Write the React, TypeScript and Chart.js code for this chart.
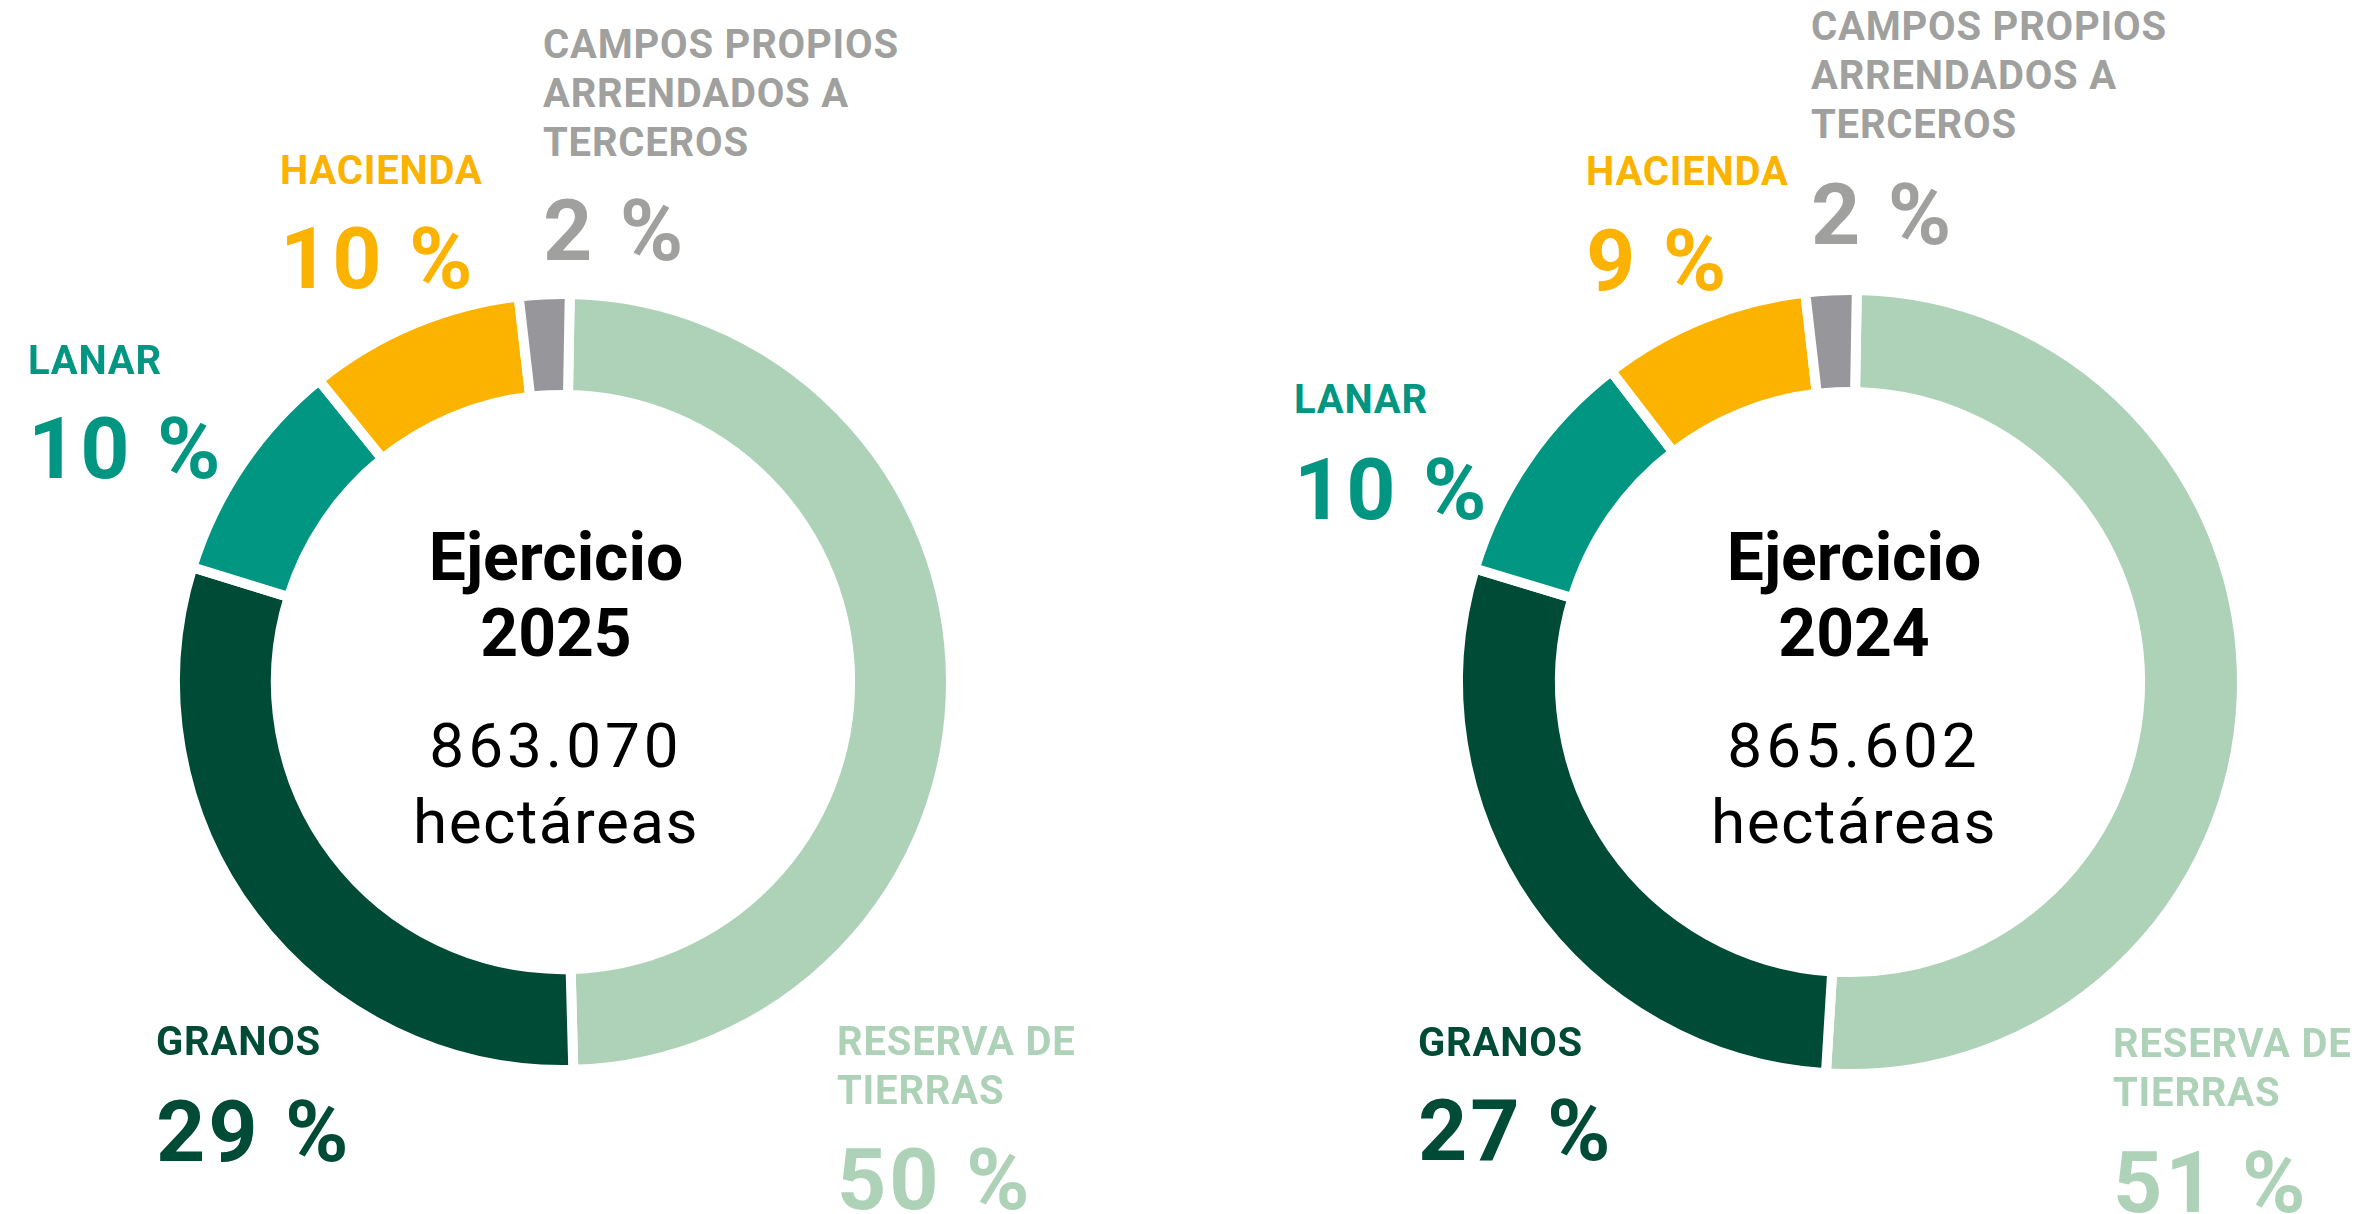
import React, { useEffect, useRef } from 'react';
import { Chart, DoughnutController, ArcElement } from 'chart.js';

Chart.register(DoughnutController, ArcElement);

// ---- data ----
const categories = ['Reserva de tierras', 'Granos', 'Lanar', 'Hacienda', 'Campos propios arrendados a terceros'];
const categoryLabels = [
  ['RESERVA DE', 'TIERRAS'],
  ['GRANOS'],
  ['LANAR'],
  ['HACIENDA'],
  ['CAMPOS PROPIOS', 'ARRENDADOS A', 'TERCEROS'],
];
const colors = ['#AED2B8', '#004B35', '#009682', '#FCB300', '#97969B'];
const textColors = ['#AED2B8', '#004B35', '#009682', '#FCB300', '#A0A09F'];

// shares (%) as drawn in the rings
const shares2025 = [49.3, 30.2, 9.4, 9.0, 2.1];
const shares2024 = [50.7, 28.7, 9.9, 8.6, 2.1];
// printed percentage labels
const pctLabels2025 = ['50 %', '29 %', '10 %', '10 %', '2 %'];
const pctLabels2024 = ['51 %', '27 %', '10 %', '9 %', '2 %'];

const years = ['2025', '2024'];
const hectares = ['863.070', '865.602'];
const titleWord = 'Ejercicio';
const unitWord = 'hectáreas';

// ---- layout (positions only) ----
type LabelPos = { x: number; name: number; pct: number };
const charts = [
  {
    cx: 563, cy: 682, radius: 388, cutout: '74%', textX: 556,
    shares: shares2025, pcts: pctLabels2025, year: years[0], ha: hectares[0],
    pos: [
      { x: 837, name: 1056, pct: 1209 },
      { x: 156, name: 1056, pct: 1161 },
      { x: 28, name: 375, pct: 478 },
      { x: 280, name: 185, pct: 288 },
      { x: 543, name: 59, pct: 260 },
    ] as LabelPos[],
  },
  {
    cx: 1850, cy: 682, radius: 392, cutout: '74%', textX: 1854,
    shares: shares2024, pcts: pctLabels2024, year: years[1], ha: hectares[1],
    pos: [
      { x: 2113, name: 1058, pct: 1212 },
      { x: 1418, name: 1057, pct: 1160 },
      { x: 1294, name: 414, pct: 519 },
      { x: 1586, name: 186, pct: 290 },
      { x: 1811, name: 41, pct: 244 },
    ] as LabelPos[],
  },
];

const FONT = 'Roboto, "Liberation Sans", sans-serif';

function Txt(props: {
  x: number; baseline: number; size: number; weight: number; color: string; text: string; center?: boolean; ls?: number;
}) {
  const { x, baseline, size, weight, color, text, center, ls } = props;
  const top = baseline - 0.842 * size;
  const style: React.CSSProperties = {
    position: 'absolute',
    top,
    left: center ? x - 500 : x,
    width: center ? 1000 : undefined,
    textAlign: center ? 'center' : 'left',
    fontFamily: FONT,
    fontSize: size,
    fontWeight: weight,
    lineHeight: `${size}px`,
    color,
    whiteSpace: 'nowrap',
    letterSpacing: ls ? `${ls}px` : undefined,
  };
  return <div style={style}>{text}</div>;
}

function Ring(props: { cx: number; cy: number; radius: number; cutout: string; shares: number[] }) {
  const ref = useRef<HTMLCanvasElement | null>(null);
  const { cx, cy, radius, cutout, shares } = props;
  useEffect(() => {
    if (!ref.current) return;
    const chart = new Chart(ref.current, {
      type: 'doughnut',
      data: {
        labels: categories,
        datasets: [
          {
            data: shares,
            backgroundColor: colors,
            borderColor: '#ffffff',
            borderWidth: 10,
            borderJoinStyle: 'miter',
            hoverOffset: 0,
          } as any,
        ],
      },
      options: {
        responsive: false,
        animation: false,
        devicePixelRatio: 1,
        events: [],
        radius,
        cutout,
        rotation: 1,
        layout: { padding: 0 },
        plugins: { legend: { display: false }, tooltip: { enabled: false } },
      } as any,
    });
    return () => chart.destroy();
  }, []);
  const size = 820;
  return (
    <canvas
      ref={ref}
      width={size}
      height={size}
      style={{ position: 'absolute', left: cx - size / 2, top: cy - size / 2, width: size, height: size }}
    />
  );
}

export default function App() {
  return (
    <div
      style={{
        position: 'fixed', left: 0, top: 0, width: 2362, height: 1214,
        overflow: 'hidden', background: '#ffffff',
      }}
    >
      {charts.map((c, ci) => (
        <React.Fragment key={ci}>
          <Ring cx={c.cx} cy={c.cy} radius={c.radius} cutout={c.cutout} shares={c.shares} />
          <Txt x={c.textX} baseline={581} size={66} weight={700} color="#000" text={titleWord} center />
          <Txt x={c.textX} baseline={657} size={66} weight={700} color="#000" text={c.year} center />
          <Txt x={c.textX} baseline={767} size={62} weight={400} color="#000" text={c.ha} center ls={4} />
          <Txt x={c.textX} baseline={843} size={62} weight={400} color="#000" text={unitWord} center ls={1.5} />
          {c.pos.map((p, i) => (
            <React.Fragment key={i}>
              {categoryLabels[i].map((line, li) => (
                <Txt key={li} x={p.x} baseline={p.name + li * 49} size={40} weight={700} color={textColors[i]} text={line} ls={0.8} />
              ))}
              <Txt x={p.x} baseline={p.pct} size={86} weight={700} color={textColors[i]} text={c.pcts[i]} ls={3} />
            </React.Fragment>
          ))}
        </React.Fragment>
      ))}
    </div>
  );
}
